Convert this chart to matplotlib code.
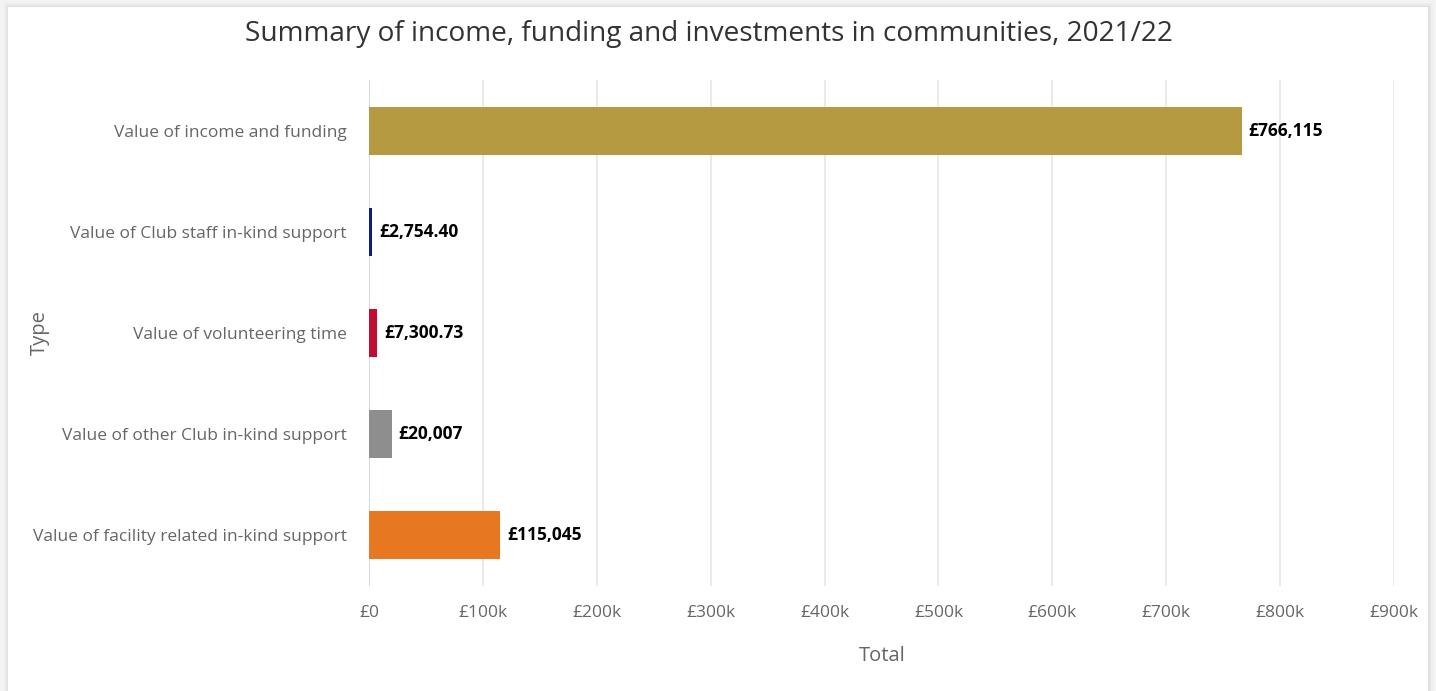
import matplotlib
matplotlib.use("Agg")
import matplotlib.pyplot as plt
from matplotlib.patches import FancyBboxPatch
from matplotlib.ticker import FuncFormatter, MultipleLocator

categories = [
    "Value of income and funding",
    "Value of Club staff in-kind support",
    "Value of volunteering time",
    "Value of other Club in-kind support",
    "Value of facility related in-kind support",
]
values = [766115, 2754.40, 7300.73, 20007, 115045]
value_labels = ["£766,115", "£2,754.40", "£7,300.73", "£20,007", "£115,045"]
colors = ["#b59a42", "#0c1c82", "#c40c32", "#8e8e8e", "#e87722"]

plt.rcParams["font.family"] = ["Open Sans", "DejaVu Sans"]

W, H = 1436, 691
fig = plt.figure(figsize=(W / 100, H / 100), dpi=100, facecolor="#f3f3f3")

# white card with a soft edge
for i, a in enumerate([0.015, 0.025, 0.04]):
    d = (3 - i) * 1.5
    fig.patches.append(FancyBboxPatch(
        ((8 - d) / W, 0), (1420 + 2 * d) / W, (684 + d) / H,
        boxstyle="square,pad=0", transform=fig.transFigure,
        facecolor="black", alpha=a, edgecolor="none", zorder=-10))
fig.patches.append(FancyBboxPatch(
    (8 / W, 0), 1420 / W, 684 / H, boxstyle="square,pad=0",
    transform=fig.transFigure, facecolor="white", edgecolor="none", zorder=-5))

left, right, top, bottom = 369, 1394, 80, 586
ax = fig.add_axes([left / W, 1 - bottom / H, (right - left) / W, (bottom - top) / H])
ax.set_facecolor("none")

pos = list(range(len(categories)))
ax.barh(pos, values, height=0.475, color=colors, zorder=3)
ax.set_ylim(len(categories) - 0.5, -0.5)
ax.set_xlim(0, 900000)

for p, v, lab in zip(pos, values, value_labels):
    ax.annotate(lab, (v, p), xytext=(5, 0), textcoords="offset points",
                ha="left", va="center", fontsize=12.5, fontweight="bold",
                color="black", zorder=4)

ax.xaxis.set_major_locator(MultipleLocator(100000))
ax.xaxis.set_major_formatter(FuncFormatter(
    lambda x, _: "£0" if x == 0 else f"£{int(x / 1000)}k"))
ax.set_yticks(pos)
ax.set_yticklabels(categories)
ax.tick_params(axis="y", length=0, pad=16, labelsize=12.5, labelcolor="#666666")
ax.tick_params(axis="x", length=0, pad=14, labelsize=12.5, labelcolor="#666666")

ax.grid(axis="x", color="#e6e6e6", linewidth=1.2, zorder=0)
ax.axvline(0, color="#ccd6eb", linewidth=1.2, zorder=2)
for s in ax.spines.values():
    s.set_visible(False)

ax.set_xlabel("Total", fontsize=14.5, color="#666666")
ax.xaxis.set_label_coords((882 - left) / (right - left), -(656 - bottom) / (bottom - top))
ax.xaxis.label.set_va("center")
ax.set_ylabel("Type", fontsize=14.5, color="#666666")
ax.yaxis.set_label_coords((40 - left) / (right - left), 0.5)
ax.yaxis.label.set_va("center")

fig.text(709 / W, 1 - 34 / H, "Summary of income, funding and investments in communities, 2021/22",
         ha="center", va="center", fontsize=20.2, color="#333333")

fig.savefig("out.png", dpi=100, facecolor=fig.get_facecolor())
